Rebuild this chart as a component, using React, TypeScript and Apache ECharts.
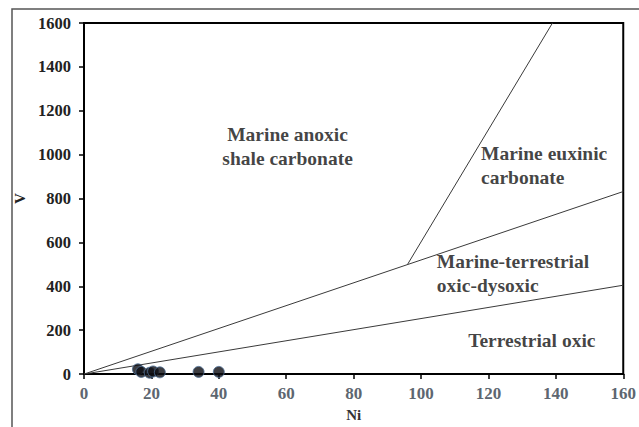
import React, { useEffect, useRef } from "react";
import * as echarts from "echarts";

const xTicks = [0, 20, 40, 60, 80, 100, 120, 140, 160];
const yTicks = [0, 200, 400, 600, 800, 1000, 1200, 1400, 1600];

// Sample points (Ni, V)
const samplesNi = [16, 17, 19.5, 20.5, 22.5, 34, 40];
const samplesV = [22, 10, 6, 12, 8, 10, 10];

// Boundary lines
const upperLine = [[0, 0], [160, 832]];
const lowerLine = [[0, 0], [160, 405]];
const euxinicLine = [[96, 500], [139, 1600]];

// Field labels
const fieldNames = [
  "Marine anoxic\nshale carbonate",
  "Marine euxinic\ncarbonate",
  "Marine-terrestrial\noxic-dysoxic",
  "Terrestrial oxic",
];
const fieldNi = [60.4, 117.8, 104.7, 114];
const fieldV = [1038, 949, 457, 154];
const fieldAlign = ["center", "left", "left", "left"];

const serif = "Liberation Serif";

export default function App() {
  const ref = useRef<HTMLDivElement>(null);
  useEffect(() => {
    const chart = echarts.init(ref.current!, null, { renderer: "svg" });
    const lineStyle = { color: "#3a3a3a", width: 1 };
    chart.setOption({
      animation: false,
      backgroundColor: "#fff",
      textStyle: { fontFamily: serif },
      grid: {
        left: 84,
        right: 13,
        top: 23,
        bottom: 51,
        show: true,
        borderColor: "#000",
        borderWidth: 2,
      },
      graphic: [
        {
          type: "rect",
          shape: { x: 12, y: 9, width: 640, height: 440 },
          style: { fill: "none", stroke: "#555", lineWidth: 1.5 },
          z: -1,
        },
      ],
      xAxis: {
        type: "value",
        min: 0,
        max: 160,
        interval: 20,
        name: "Ni",
        nameLocation: "middle",
        nameGap: 28,
        nameTextStyle: { fontFamily: serif, fontSize: 15, fontWeight: "bold", color: "#333" },
        axisLine: { show: true, lineStyle: { color: "#000", width: 2 } },
        axisTick: { show: true, inside: false, length: 5, lineStyle: { color: "#000", width: 1.5 } },
        axisLabel: {
          margin: 11,
          fontFamily: serif,
          fontSize: 17,
          fontWeight: "bold",
          color: "#5d6670",
          formatter: (v: number) => (xTicks.includes(v) ? String(v) : ""),
        },
        splitLine: { show: false },
      },
      yAxis: {
        type: "value",
        min: 0,
        max: 1600,
        interval: 200,
        name: "V",
        nameLocation: "middle",
        nameRotate: 90,
        nameGap: 48,
        nameTextStyle: { fontFamily: serif, fontSize: 15, fontWeight: "bold", color: "#222" },
        axisLine: { show: true, lineStyle: { color: "#000", width: 2 } },
        axisTick: { show: true, inside: false, length: 5, lineStyle: { color: "#000", width: 1.5 } },
        axisLabel: {
          margin: 13,
          fontFamily: serif,
          fontSize: 16.5,
          fontWeight: "bold",
          color: "#222",
          formatter: (v: number) => (yTicks.includes(v) ? String(v) : ""),
        },
        splitLine: { show: false },
      },
      series: [
        { type: "line", data: upperLine, symbol: "none", lineStyle, silent: true },
        { type: "line", data: lowerLine, symbol: "none", lineStyle, silent: true },
        { type: "line", data: euxinicLine, symbol: "none", lineStyle, silent: true },
        {
          type: "scatter",
          data: fieldNames.map((n, i) => ({
            value: [fieldNi[i], fieldV[i]],
            label: {
              show: true,
              position: "inside",
              formatter: n,
              align: fieldAlign[i],
              verticalAlign: "middle",
              fontFamily: serif,
              fontSize: 19.5,
              fontWeight: "bold",
              lineHeight: 24,
              color: "#111",
            },
          })),
          symbolSize: 0,
          silent: true,
        },
        {
          type: "scatter",
          data: samplesNi.map((x, i) => [x, samplesV[i]]),
          symbol: "circle",
          symbolSize: 11,
          itemStyle: { color: "#0d0d12", borderColor: "#4d6f96", borderWidth: 1 },
          z: 5,
        },
      ],
    });
    return () => chart.dispose();
  }, []);
  return (
    <div
      ref={ref}
      style={{ position: "fixed", left: 0, top: 0, width: 639, height: 427, background: "#fff" }}
    />
  );
}
